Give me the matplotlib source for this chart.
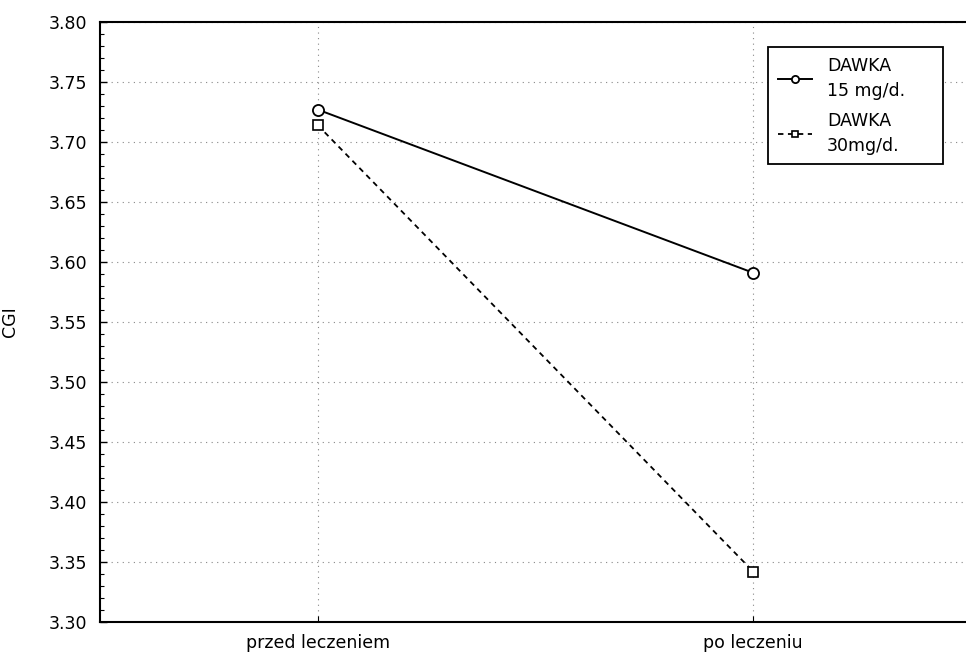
import matplotlib
matplotlib.use("Agg")
import matplotlib.pyplot as plt
from matplotlib.ticker import MultipleLocator

plt.rcParams['font.family'] = ['DejaVu Sans']

categories = ["przed leczeniem", "po leczeniu"]
dose15 = [3.727, 3.591]
dose30 = [3.714, 3.342]
labels = ["DAWKA\n15 mg/d.", "DAWKA\n30mg/d."]
yticks = [3.30, 3.35, 3.40, 3.45, 3.50, 3.55, 3.60, 3.65, 3.70, 3.75, 3.80]

W, H = 966, 654
FS = 12.5
fig = plt.figure(figsize=(W / 100, H / 100), dpi=100)
ax = fig.add_axes([100 / W, 1 - 622 / H, 871 / W, 600 / H])

x = list(range(len(categories)))
ax.plot(x, dose15, color='black', lw=1.4, marker='o', ms=8,
        mfc='white', mec='black', mew=1.3, label=labels[0], zorder=3)
ax.plot(x, dose30, color='black', lw=1.3, ls=(0, (3, 2.5)), marker='s', ms=7.5,
        mfc='white', mec='black', mew=1.2, label=labels[1], zorder=3)

ax.set_xlim(-0.5, 1.5)
ax.set_ylim(3.30, 3.80)
ax.set_yticks(yticks)
ax.set_yticklabels([f"{v:.2f}" for v in yticks])
ax.yaxis.set_minor_locator(MultipleLocator(0.01))
ax.set_xticks(x)
ax.set_xticklabels(categories)
ax.tick_params(axis='y', which='major', direction='in', length=5, width=1,
               labelsize=FS, pad=9)
ax.tick_params(axis='y', which='minor', direction='in', length=3, width=0.8)
ax.tick_params(axis='x', which='major', direction='in', length=4, width=0.8,
               labelsize=FS, pad=9)
ax.grid(True, which='major', color='#888888', ls=(0, (1, 4)), lw=0.8)
for s in ax.spines.values():
    s.set_linewidth(1.5)

ax.set_ylabel("CGI", fontsize=FS)
ax.yaxis.set_label_coords((19 - 100) / 871, 0.5)

x0 = (768 - 100) / 871
y1 = (622 - 47) / 600
wbox = (943 - 768) / 871
hbox = (158 - 47) / 600
leg = ax.legend(loc='upper left', mode='expand',
                bbox_to_anchor=(x0, y1 - hbox, wbox, hbox),
                borderaxespad=0, fontsize=FS, frameon=True, fancybox=False,
                edgecolor='black', framealpha=1, markerscale=0.65,
                handlelength=2.0, handletextpad=0.85, borderpad=0.55,
                labelspacing=0.7)
leg.get_frame().set_linewidth(1.3)
for t in leg.get_texts():
    t.set_linespacing(1.5)

fig.savefig("out.png", dpi=100, facecolor='white')
